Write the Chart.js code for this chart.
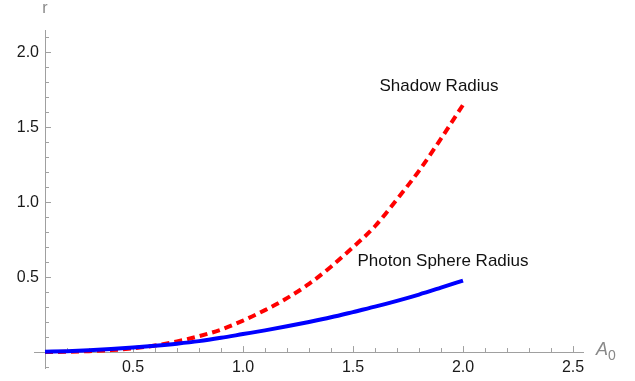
<!DOCTYPE html>
<html><head><meta charset="utf-8">
<script src="https://cdn.jsdelivr.net/npm/chart.js@4"></script>
<style>html,body{margin:0;padding:0;background:#fff}#wrap{width:635px;height:381px}</style>
</head><body><div id="wrap"><canvas id="c" width="635" height="381"></canvas></div>
<script>
const a0 = [0.1,0.2,0.3,0.4,0.5,0.6,0.7,0.8,0.9,1.0,1.1,1.2,1.3,1.4,1.5,1.6,1.7,1.8,1.9,2.0];
const photonSphere = [0.002,0.006,0.012,0.020,0.030,0.042,0.056,0.073,0.095,0.120,0.145,0.172,0.201,0.232,0.267,0.303,0.342,0.384,0.430,0.477];
const shadowRadius = [0.000,0.002,0.006,0.013,0.025,0.044,0.071,0.106,0.150,0.210,0.280,0.360,0.455,0.570,0.700,0.840,1.020,1.210,1.425,1.650];
const xMajorTicks = [0.5,1.0,1.5,2.0,2.5];
const yMajorTicks = [0.5,1.0,1.5,2.0];
const seriesLabels = ["Photon Sphere Radius","Shadow Radius"];

const toPts = ys => a0.map((x,i)=>({x, y: ys[i]}));
const FONT = '"Liberation Sans", Arial, sans-serif';

const axesPlugin = {
  id:'axesPlugin',
  beforeDatasetsDraw(chart){
    const {ctx, scales:{x, y}} = chart;
    const x0 = x.getPixelForValue(0.1), y0 = y.getPixelForValue(0);
    ctx.save();
    ctx.strokeStyle = '#a0a0a0'; ctx.lineWidth = 1;
    ctx.beginPath();
    ctx.moveTo(x.left, Math.round(y0)+0.5); ctx.lineTo(x.right, Math.round(y0)+0.5);
    ctx.moveTo(Math.round(x0)+0.5, y.top); ctx.lineTo(Math.round(x0)+0.5, y.bottom);
    for (let k=1;k<=25;k++){
      const v = k/10, px = Math.round(x.getPixelForValue(v))+0.5;
      const major = k%5===0;
      ctx.moveTo(px, y0); ctx.lineTo(px, y0 - (major?6:4));
    }
    for (let k=-1;k<=21;k++){
      if (k===0) continue;
      const v = k/10, py = Math.round(y.getPixelForValue(v))+0.5;
      const major = k%5===0;
      ctx.moveTo(x0, py); ctx.lineTo(x0 + (major?6:4), py);
    }
    ctx.stroke();
    ctx.fillStyle = '#1a1a1a';
    ctx.font = '16px '+FONT;
    ctx.textAlign='center'; ctx.textBaseline='middle';
    xMajorTicks.forEach(v=>ctx.fillText(v.toFixed(1), x.getPixelForValue(v), y0+16));
    ctx.textAlign='right';
    yMajorTicks.forEach(v=>ctx.fillText(v.toFixed(1), x0-6, y.getPixelForValue(v)));
    ctx.fillStyle = '#888';
    ctx.font = '16px '+FONT;
    ctx.textAlign='center';
    ctx.fillText('r', x0, 9);
    ctx.textAlign='left';
    ctx.font = 'italic 18px '+FONT;
    ctx.fillText('A', x.right+12, y0-2);
    ctx.font = '14px '+FONT;
    ctx.fillText('0', x.right+24, y0+4);
    ctx.restore();
  },
  afterDatasetsDraw(chart){
    const {ctx} = chart;
    ctx.save();
    ctx.fillStyle='#111';
    ctx.font='17px '+FONT;
    ctx.textAlign='center'; ctx.textBaseline='middle';
    ctx.fillText(seriesLabels[1], 439, 86);
    ctx.fillText(seriesLabels[0], 443, 261);
    ctx.restore();
  }
};

new Chart(document.getElementById('c'), {
  type:'line',
  data:{datasets:[
    {label:seriesLabels[0], data:toPts(photonSphere), borderColor:'#0000ff', borderWidth:4, pointRadius:0, cubicInterpolationMode:'monotone', fill:false},
    {label:seriesLabels[1], data:toPts(shadowRadius), borderColor:'#ff0000', borderWidth:4, borderDash:[8,5], pointRadius:0, cubicInterpolationMode:'monotone', fill:false}
  ]},
  options:{
    responsive:false, animation:false,
    layout:{padding:{left:34, right:51, top:30, bottom:12}},
    plugins:{legend:{display:false}, tooltip:{enabled:false}},
    scales:{
      x:{type:'linear', min:0.05, max:2.55, display:false},
      y:{type:'linear', min:-0.113, max:2.15, display:false}
    }
  },
  plugins:[axesPlugin]
});
</script></body></html>
